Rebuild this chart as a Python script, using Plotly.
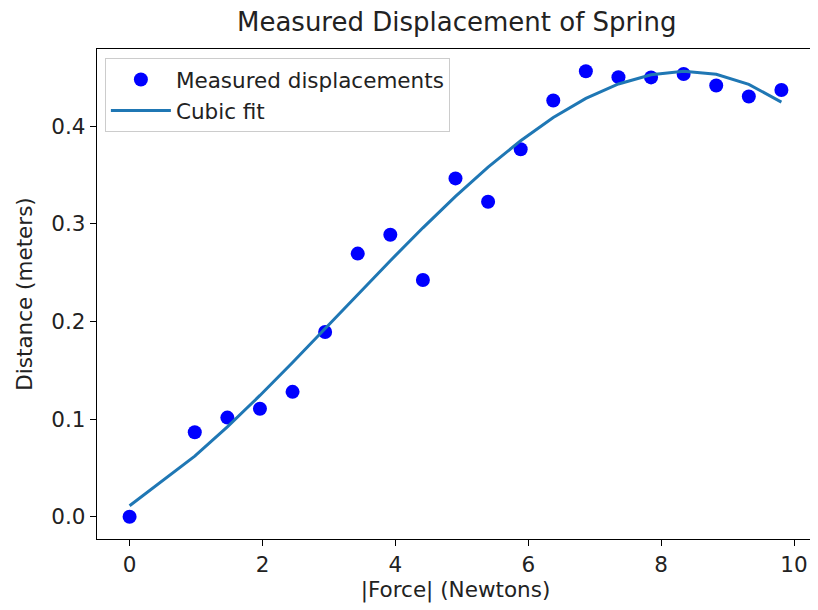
import plotly.graph_objects as go

force = [0.0, 0.981, 1.4715, 1.962, 2.4525, 2.943, 3.4335, 3.924, 4.4145, 4.905,
         5.3955, 5.886, 6.3765, 6.867, 7.3575, 7.848, 8.3385, 8.829, 9.3195, 9.81]
distance = [0.0, 0.0865, 0.1015, 0.1106, 0.1279, 0.1892, 0.2695, 0.2888, 0.2425, 0.3465,
            0.3225, 0.3764, 0.4263, 0.4562, 0.4502, 0.4499, 0.4534, 0.4416, 0.4304, 0.437]
cubic_fit = [0.0113, 0.0621, 0.0920, 0.1242, 0.1579, 0.1926, 0.2276, 0.2622, 0.2959, 0.3281,
             0.3580, 0.3851, 0.4088, 0.4284, 0.4432, 0.4527, 0.4562, 0.4531, 0.4428, 0.4246]
x_ticks = [0, 2, 4, 6, 8, 10]
y_ticks = [0.0, 0.1, 0.2, 0.3, 0.4]

FS = 21.5
fig = go.Figure()
fig.add_trace(go.Scatter(x=force, y=distance, mode="markers", name="Measured displacements",
                         marker=dict(color="#0000ff", size=14)))
fig.add_trace(go.Scatter(x=force, y=cubic_fit, mode="lines", name="Cubic fit",
                         line=dict(color="#1f77b4", width=3)))

axis_common = dict(showline=True, linecolor="black", linewidth=1.3, mirror=True,
                   ticks="outside", ticklen=6, tickwidth=1.3, tickcolor="black",
                   showgrid=False, zeroline=False,
                   tickfont=dict(size=FS, color="#222222"))
fig.update_xaxes(range=[-0.4905, 10.3005], tickvals=x_ticks,
                 ticktext=[str(v) for v in x_ticks],
                 title=dict(text="|Force| (Newtons)", standoff=4, font=dict(size=FS)),
                 **axis_common)
fig.update_yaxes(range=[-0.02281, 0.47901], tickvals=y_ticks,
                 ticktext=[f"{v:.1f}" for v in y_ticks],
                 title=dict(text="Distance (meters)", standoff=12, font=dict(size=FS)),
                 **axis_common)

# body has an 8px default margin in the page, so the figure is drawn 8px smaller
fig.update_layout(width=810, height=602, margin=dict(l=89, r=4, t=41, b=71),
                  paper_bgcolor="white", plot_bgcolor="white",
                  font=dict(family="DejaVu Sans", size=FS, color="#222222"),
                  title=dict(text="Measured Displacement of Spring", x=0.554, xanchor="center",
                             y=0.9767, yanchor="middle", font=dict(size=26, color="#222222")),
                  legend=dict(x=0.011, y=0.9816, xanchor="left", yanchor="top",
                              bgcolor="rgba(255,255,255,0.8)", bordercolor="#cccccc",
                              borderwidth=1, font=dict(size=FS), tracegroupgap=0,
                              itemwidth=60),
                  showlegend=True)
fig.write_html("out.html")
